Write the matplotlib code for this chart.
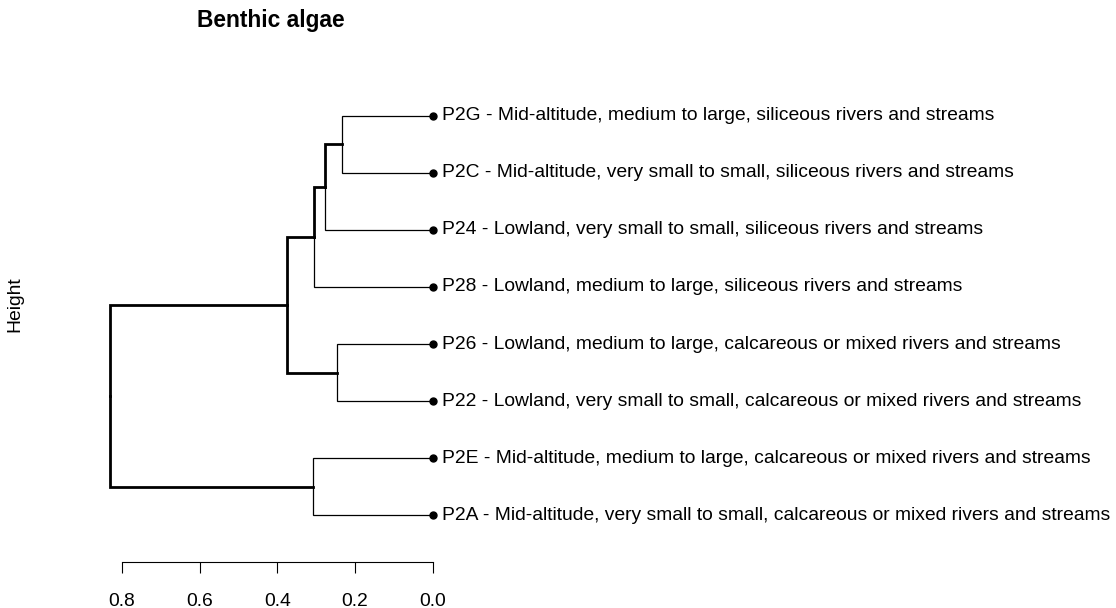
import matplotlib
matplotlib.use("Agg")
import matplotlib.pyplot as plt

plt.rcParams['font.family'] = ['Liberation Sans', 'DejaVu Sans']

# leaves, top to bottom
leaf_codes = ["P2G", "P2C", "P24", "P28", "P26", "P22", "P2E", "P2A"]
leaf_names = [
    "Mid-altitude, medium to large, siliceous rivers and streams",
    "Mid-altitude, very small to small, siliceous rivers and streams",
    "Lowland, very small to small, siliceous rivers and streams",
    "Lowland, medium to large, siliceous rivers and streams",
    "Lowland, medium to large, calcareous or mixed rivers and streams",
    "Lowland, very small to small, calcareous or mixed rivers and streams",
    "Mid-altitude, medium to large, calcareous or mixed rivers and streams",
    "Mid-altitude, very small to small, calcareous or mixed rivers and streams",
]

# merges: (left child, right child, height); negative = leaf index (1-based), positive = earlier merge
merges = [
    (-1, -2, 0.233),
    (1, -3, 0.277),
    (2, -4, 0.305),
    (-5, -6, 0.247),
    (3, 4, 0.376),
    (-7, -8, 0.309),
    (5, 6, 0.832),
]
height_ticks = [0.0, 0.2, 0.4, 0.6, 0.8]

W, H, DPI = 1116, 608, 100
FS = 13.85
fig = plt.figure(figsize=(W / DPI, H / DPI), dpi=DPI)

# axes placed in pixel terms
x0_px, x08_px = 432.7, 122.0
px_per_unit = (x0_px - x08_px) / 0.8
ax_left_px = 90.0
xmax = (x0_px - ax_left_px) / px_per_unit
top_px, bot_px = 100.0, 530.0
leaf_top, leaf_step = 115.5, 57.14
ytop = 1 + (top_px - leaf_top) / leaf_step
ybot = 1 + (bot_px - leaf_top) / leaf_step
ax = fig.add_axes([ax_left_px / W, 1 - bot_px / H, (x0_px - ax_left_px) / W, (bot_px - top_px) / H])
ax.set_xlim(xmax, 0)
ax.set_ylim(ybot, ytop)

# position of each node: (y, height)
pos = {}
for i in range(len(leaf_codes)):
    pos[-(i + 1)] = (i + 1.0, 0.0)

def is_leaf(n):
    return n < 0

for k, (a, b, h) in enumerate(merges, start=1):
    ya, ha = pos[a]
    yb, hb = pos[b]
    ymid = (ya + yb) / 2
    # vertical part split into halves so each child edge keeps its own width
    for child, yc, hc in ((a, ya, ha), (b, yb, hb)):
        lw = 0.9 if is_leaf(child) else 2.0
        ax.plot([h, h, hc], [ymid, yc, yc], color="black", lw=lw,
                solid_joinstyle="miter", solid_capstyle="projecting", clip_on=False)
    pos[k] = (ymid, h)

for i, (code, name) in enumerate(zip(leaf_codes, leaf_names)):
    ax.plot(0, i + 1, "o", color="black", ms=5, clip_on=False)
    ax.annotate(f"{code} - {name}", (0, i + 1), xytext=(7, 0), textcoords="offset points",
                ha="left", va="center", fontsize=FS, annotation_clip=False)

for s in ("top", "right", "left"):
    ax.spines[s].set_visible(False)
ax.spines["bottom"].set_position(("outward", 23))
ax.spines["bottom"].set_bounds(0, 0.8)
ax.spines["bottom"].set_linewidth(0.8)
ax.set_xticks(height_ticks)
ax.set_xticklabels([f"{t:.1f}" for t in height_ticks], fontsize=FS)
ax.tick_params(axis="x", length=8, width=0.8, pad=14)
ax.set_yticks([])

fig.text(197 / W, 1 - 21 / H, "Benthic algae", fontsize=16.4, fontweight="bold", ha="left", va="center")
fig.text(15 / W, 1 - 304 / H, "Height", fontsize=FS, rotation=90, ha="center", va="center")

fig.savefig("out.png", dpi=DPI)
